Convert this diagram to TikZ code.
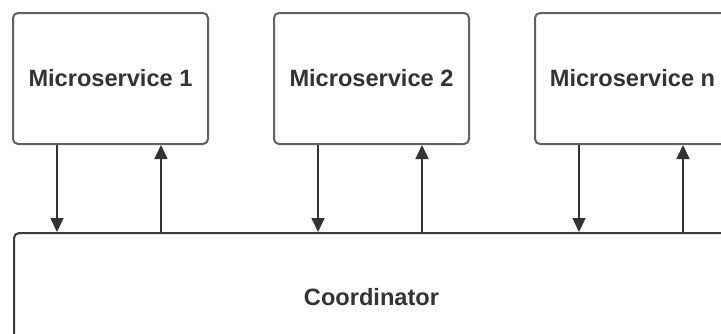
\documentclass[tikz,border=0pt]{standalone}
\usepackage{fontspec}
\setmainfont{Liberation Sans}
\usepackage{tikz}
\usetikzlibrary{arrows.meta}
\usetikzlibrary{calc}
\usetikzlibrary{positioning}

\begin{document}
\begin{tikzpicture}[
    service/.style={draw=black!62, line width=1pt, rounded corners=2.5pt, fill=white,
        minimum width=97.5pt, minimum height=65.5pt, inner sep=0pt,
        text=black!80, font=\fontsize{11.8}{14}\selectfont\bfseries},
    coord/.style={draw=black!78, line width=1pt, rounded corners=2.5pt, fill=white,
        minimum width=357.5pt, minimum height=64pt, inner sep=0pt,
        text=black!80, font=\fontsize{11.8}{14}\selectfont\bfseries},
    msg/.style={draw=black!80, line width=0.8pt, -{Triangle[length=7pt,width=6.5pt]}}]
        \useasboundingbox (0,0) rectangle (360.5pt,-166.5pt);
        \node[service] (ms1) at (55.25pt,-39.25pt) {Microservice 1};
        \node[service, right=32pt of ms1] (ms2) {Microservice 2};
        \node[service, right=32pt of ms2] (msn) {Microservice n};
        \node[coord, below=43.5pt of ms2] (co) {Coordinator};
        % one request down, one reply up for every service
        \foreach \ms in {ms1, ms2, msn} {
            \coordinate (\ms-out) at ($(\ms.south)+(-26.75pt,0)$);
            \coordinate (\ms-in) at ($(\ms.south)+(25.25pt,0)$);
            \draw[msg] (\ms-out) -- (\ms-out |- co.north);
            \draw[msg] (\ms-in |- co.north) -- (\ms-in);
        }
    \end{tikzpicture}
\end{document}
